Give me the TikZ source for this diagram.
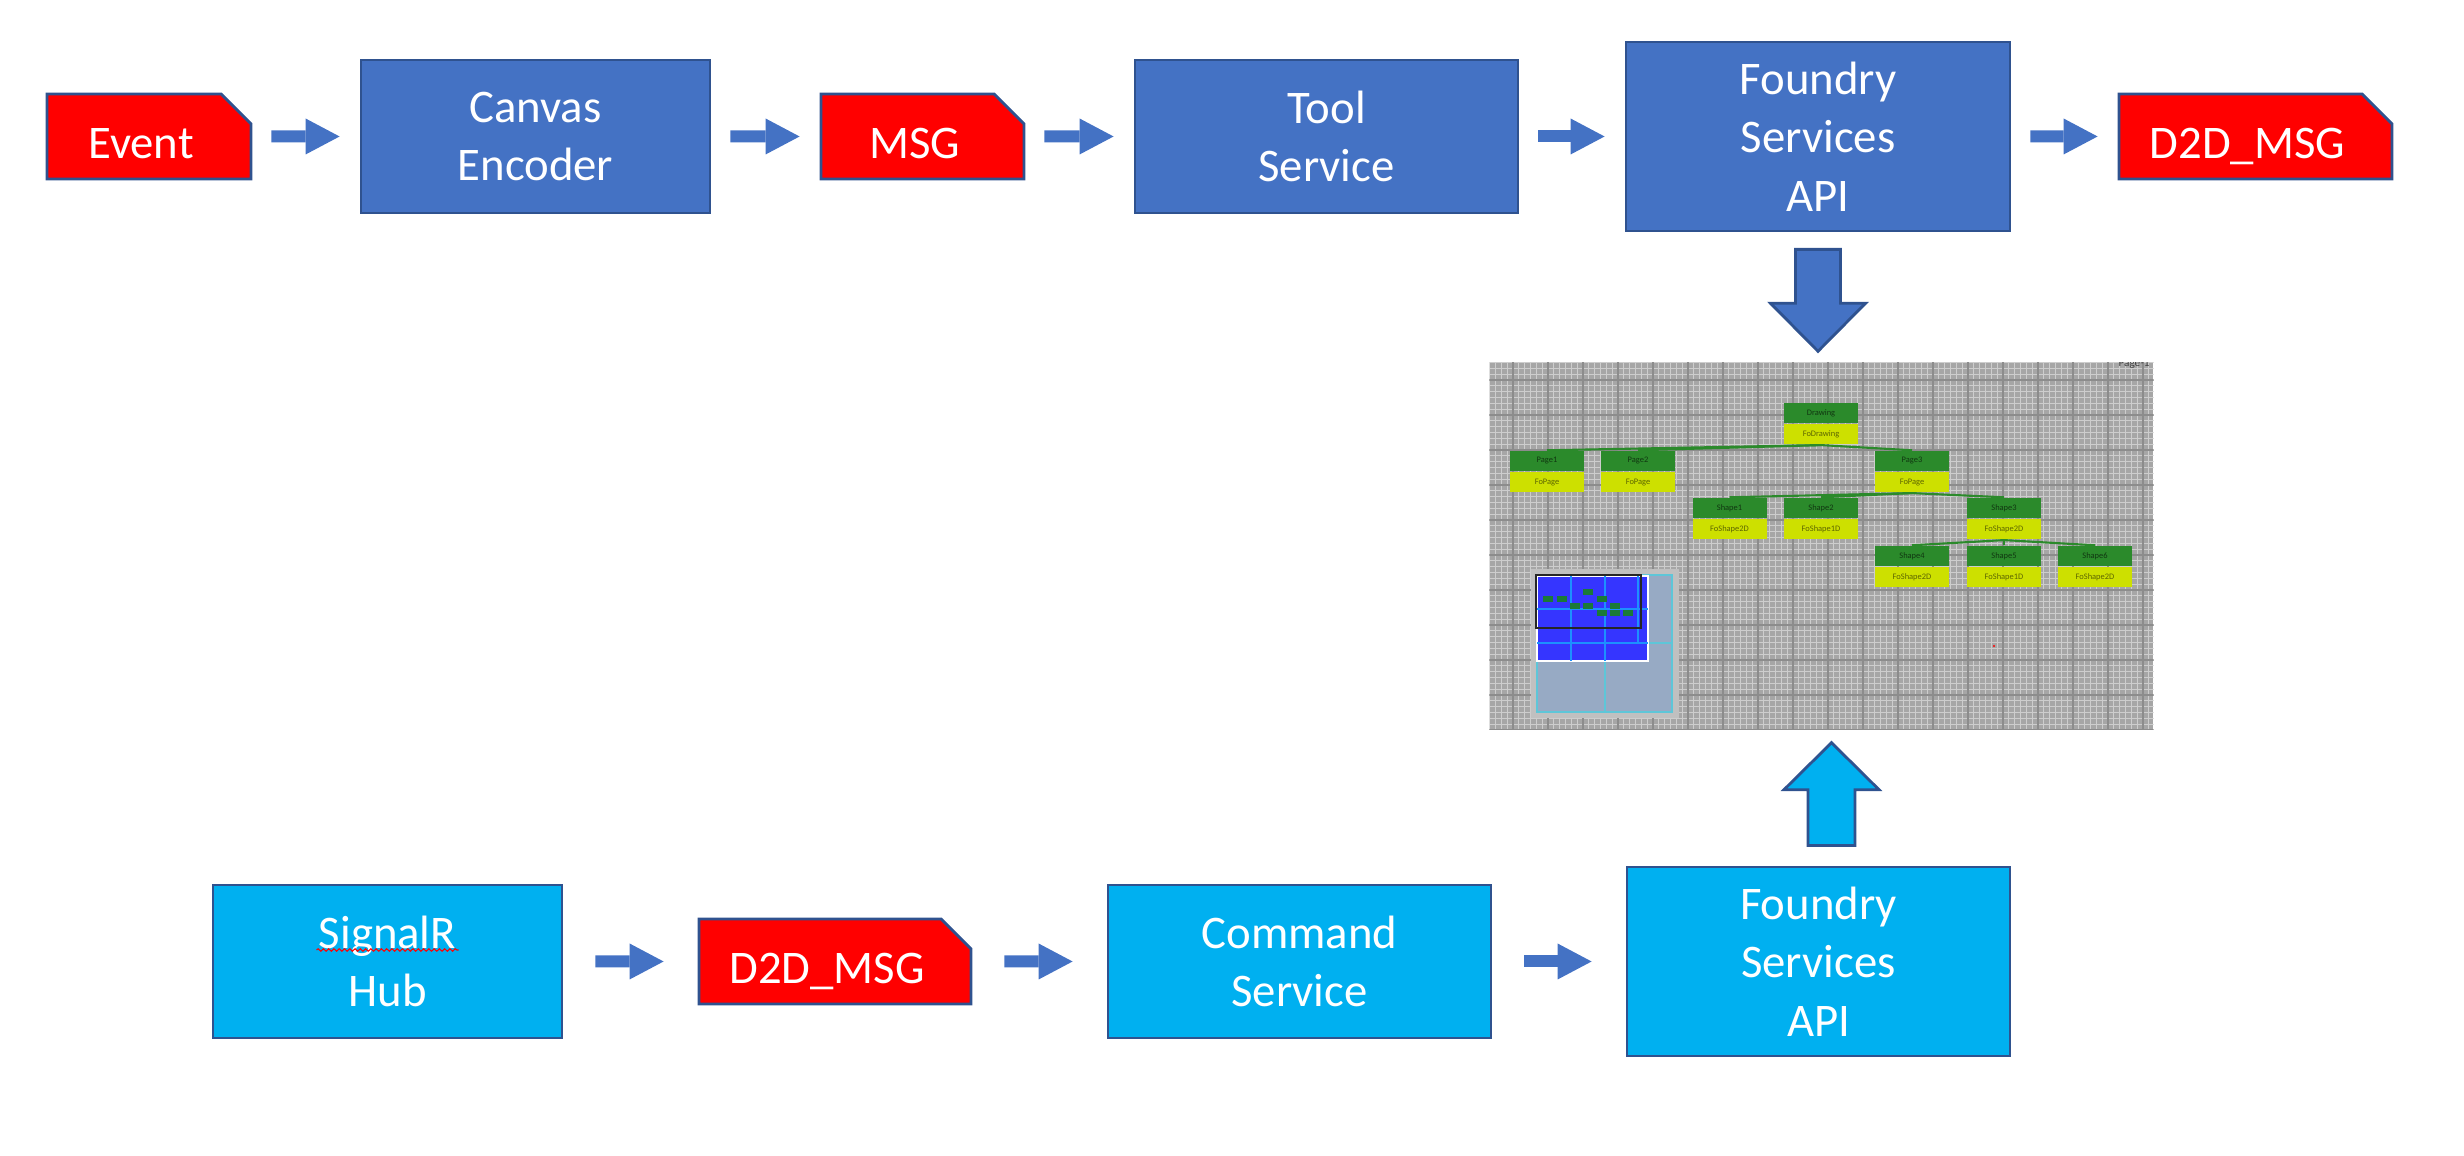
\documentclass[tikz,border=0pt]{standalone}
\usepackage{fontspec}
\setmainfont{Carlito}
\usepackage{tikz}
\usetikzlibrary{arrows.meta, positioning, shapes.misc, calc, decorations.pathmorphing}

\definecolor{topblue}{HTML}{4472C4}
\definecolor{edgeblue}{HTML}{2F528F}
\definecolor{skyblue}{HTML}{00B0F0}
\definecolor{msgred}{HTML}{FF0000}
\definecolor{treegreen}{HTML}{2B8A2B}
\definecolor{treelime}{HTML}{CDE000}
\definecolor{gridbg}{HTML}{A6A6A6}
\definecolor{gridminor}{HTML}{CDCDCD}
\definecolor{gridmajor}{HTML}{8C8C8C}
\definecolor{mapgray}{HTML}{C0C0C0}
\definecolor{mapsteel}{HTML}{97AAC4}
\definecolor{mapcyan}{HTML}{5EC6D8}
\definecolor{mapblue}{HTML}{3535FF}
\definecolor{mapgreen}{HTML}{1B7A38}

\newcommand{\boxfont}{\fontsize{13.3}{16.6}\selectfont}
\newcommand{\treefont}{\fontsize{2.4}{2.8}\selectfont}

\begin{document}
\begin{tikzpicture}[
    blk/.style={rectangle, draw=edgeblue, line width=0.8pt, text=white, align=center, font=\boxfont, inner sep=0pt},
    svc/.style={blk, fill=topblue},
    rcv/.style={blk, fill=skyblue},
    msgbox/.style={chamfered rectangle, chamfered rectangle corners=north east,
      chamfered rectangle xsep=0.15cm, chamfered rectangle ysep=0.15cm,
      draw=edgeblue, line width=0.8pt, fill=msgred, text=white, font=\boxfont, inner sep=0pt,
      minimum width=#1, minimum height=0.77cm, text height=0.50cm, text depth=0.05cm,
      execute at end node={\hspace*{0.16cm}}},
    flow/.style={draw=topblue, line width=0.12cm, -{Triangle[length=0.34cm, width=0.36cm, line width=0pt]}},
    bigarrow/.style={draw=edgeblue, line width=0.8pt, line join=miter},
    treetop/.style={rectangle, fill=treegreen, text=treegreen!40!black, font=\treefont,
      minimum width=0.74cm, minimum height=0.20cm, inner sep=0pt},
    treebot/.style={treetop, fill=treelime, text=treelime!45!black},
    treeedge/.style={draw=treegreen, line width=0.6pt},
    spell/.style={draw=red, line width=0.3pt, decorate, decoration={snake, amplitude=0.35pt, segment length=1.5pt}}
  ]
    \useasboundingbox (0,0) rectangle (24.64,-11.56);

    % top row
    \node[msgbox=2.04cm] (ev) at (1.49,-1.365) {Event};
    \node[svc, minimum width=3.49cm, minimum height=1.53cm] (canvas) at (5.355,-1.365) {Canvas\\Encoder};
    \node[msgbox=2.03cm] (msg) at (9.225,-1.365) {MSG};
    \node[svc, minimum width=3.83cm, minimum height=1.53cm] (tool) at (13.265,-1.365) {Tool\\Service};
    \node[svc, minimum width=3.84cm, minimum height=1.89cm] (fst) at (18.18,-1.365) {Foundry\\Services\\API};
    \node[msgbox=2.73cm] (dmsg) at (22.555,-1.365) {D2D\_MSG};

    % bottom row
    \node[rcv, minimum width=3.49cm, minimum height=1.53cm] (hub) at (3.875,-9.615) {SignalR\\Hub};
    \node[msgbox=2.72cm] (dmsgb) at (8.35,-9.615) {D2D\_MSG};
    \node[rcv, minimum width=3.83cm, minimum height=1.53cm] (cmd) at (12.995,-9.615) {Command\\Service};
    \node[rcv, minimum width=3.83cm, minimum height=1.89cm] (fsb) at (18.185,-9.615) {Foundry\\Services\\API};
    \draw[spell] ($(hub.center)+(-0.71,0.115)$) -- ($(hub.center)+(0.71,0.115)$);

    % canvas view
    \node[rectangle, fill=gridbg, minimum width=6.63cm, minimum height=3.66cm, inner sep=0pt] (shot) at (18.215,-5.46) {};
    \begin{scope}
      \clip (shot.south west) rectangle (shot.north east);
      \begin{scope}[shift={(0.08,0.05)}]
        \draw[gridminor, line width=0.25pt, step=0.058333] (14.7,-3.4) grid (21.7,-7.5);
        \draw[gridmajor, line width=0.35pt, step=0.35] (14.7,-3.4) grid (21.7,-7.5);
      \end{scope}
      \node[font=\fontsize{3.2}{3.6}\selectfont, text=black!75, anchor=base] (pglbl) at (21.34,-3.665) {Page-1};
    \end{scope}

    % tree
    \foreach \n/\x/\y/\a/\b in {drw/18.21/-4.13/Drawing/FoDrawing, pg1/15.47/-4.61/Page1/FoPage,
        pg2/16.38/-4.61/Page2/FoPage, pg3/19.12/-4.61/Page3/FoPage, sh1/17.295/-5.08/Shape1/FoShape2D,
        sh2/18.21/-5.08/Shape2/FoShape1D, sh3/20.04/-5.08/Shape3/FoShape2D, sh4/19.12/-5.56/Shape4/FoShape2D,
        sh5/20.04/-5.56/Shape5/FoShape1D, sh6/20.95/-5.56/Shape6/FoShape2D}
    {
      \node[treetop] (\n) at (\x,\y) {\a};
      \node[treebot, below=0pt of \n] (\n-fo) {\b};
    }
    \foreach \a/\b in {drw/pg1, drw/pg2, drw/pg3, pg3/sh1, pg3/sh2, pg3/sh3, sh3/sh4, sh3/sh5, sh3/sh6}
      \draw[treeedge] (\a-fo.south) -- (\b.north);

    % overview panel
    \fill[mapgray] (15.31,-5.69) rectangle (16.79,-7.18);
    \filldraw[fill=mapsteel, draw=mapcyan, line width=0.3pt] (15.37,-5.75) rectangle (16.72,-7.12);
    \draw[mapcyan, line width=0.3pt] (16.05,-5.75) -- (16.05,-7.12) (15.37,-6.43) -- (16.72,-6.43);
    \filldraw[fill=mapblue, draw=white, line width=0.5pt] (15.37,-5.76) rectangle (16.48,-6.61);
    \draw[mapblue!55!cyan, line width=0.3pt] (15.71,-5.76) -- (15.71,-6.61) (16.05,-5.76) -- (16.05,-6.61)
      (16.38,-5.76) -- (16.38,-6.43) (15.37,-6.09) -- (16.48,-6.09) (15.37,-6.43) -- (16.48,-6.43);
    \foreach \x/\y in {15.88/-5.92, 15.483/-5.987, 15.617/-5.987, 16.017/-5.987, 15.75/-6.057,
        15.883/-6.057, 16.15/-6.057, 16.017/-6.127, 16.15/-6.127, 16.283/-6.127}
      \fill[mapgreen] (\x-0.05,\y-0.03) rectangle (\x+0.05,\y+0.03);
    \draw[black!85, line width=0.8pt] (15.36,-5.75) rectangle (16.41,-6.28);
    \fill[red] (19.94,-6.46) circle (0.012);

    % flow arrows
    \foreach \a/\b in {ev/canvas, canvas/msg, msg/tool, tool/fst, fst/dmsg}
      \draw[flow, shorten <=0.19cm, shorten >=0.20cm] (\a) -- (\b);
    \foreach \a/\b in {hub/dmsgb, dmsgb/cmd, cmd/fsb}
      \draw[flow, shorten <=0.32cm, shorten >=0.34cm] (\a) -- (\b);

    % block arrows to and from the canvas view
    \coordinate (dtip) at ($(shot.north -| fst.south)+(0,0.11)$);
    \filldraw[bigarrow, fill=topblue] ($(fst.south)+(-0.225,-0.17)$) -- ($(dtip)+(-0.225,0.48)$)
      -- ($(dtip)+(-0.475,0.48)$) -- (dtip) -- ($(dtip)+(0.475,0.48)$) -- ($(dtip)+(0.225,0.48)$)
      -- ($(fst.south)+(0.225,-0.17)$) -- cycle;
    \coordinate (utip) at ($(shot.south -| fsb.north)+(0.13,-0.13)$);
    \filldraw[bigarrow, fill=skyblue] ($(fsb.north)+(-0.105,0.20)$) -- ($(utip)+(-0.235,-0.47)$)
      -- ($(utip)+(-0.475,-0.47)$) -- (utip) -- ($(utip)+(0.475,-0.47)$) -- ($(utip)+(0.235,-0.47)$)
      -- ($(fsb.north)+(0.365,0.20)$) -- cycle;
\end{tikzpicture}
\end{document}
